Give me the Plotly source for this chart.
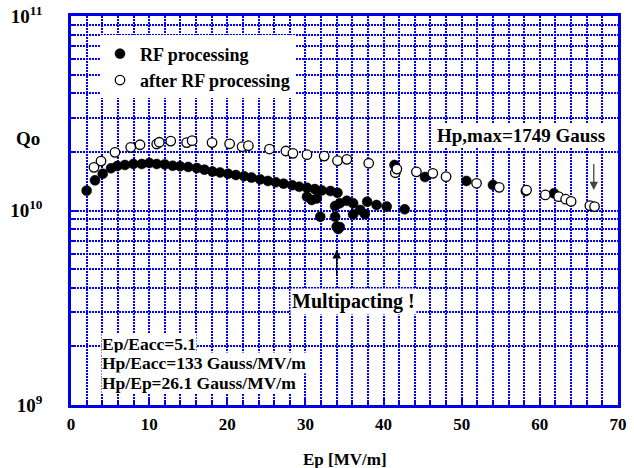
import numpy as np
import plotly.graph_objects as go

# RF processing (filled)
ep_rf = [2.0, 3.07, 4.06, 5.12, 5.93, 6.9, 7.98, 9.05, 10.03, 10.97, 12.0, 13.0, 13.96, 15.0,
         16.1, 17.07, 18.1, 19.08, 20.1, 21.1, 22.15, 23.1, 24.2, 25.2, 26.2, 27.2, 28.3, 29.2,
         30.2, 31.2, 32.1, 33.2, 34.1,
         30.2, 30.8, 31.45, 31.9, 33.8, 34.0, 34.4, 34.2, 33.8, 34.4, 35.3, 36.1, 36.1, 37.0,
         37.6, 37.9, 39.1, 40.4, 42.7, 41.4, 45.3, 50.6, 54.0, 58.2, 61.8]
q_rf = [1.265, 1.429, 1.545, 1.648, 1.694, 1.714, 1.734, 1.734, 1.754, 1.734, 1.726, 1.698, 1.687, 1.675,
        1.652, 1.622, 1.585, 1.567, 1.545, 1.521, 1.500, 1.476, 1.445, 1.419, 1.396, 1.374, 1.349, 1.324,
        1.309, 1.288, 1.268, 1.259, 1.233,
        1.178, 1.132, 1.153, 0.929, 0.929, 0.826, 0.822, 0.804, 1.054, 1.089, 1.122, 1.089, 0.955, 1.007,
        0.959, 1.109, 1.067, 1.047, 1.014, 1.714, 1.486, 1.419, 1.352, 1.259, 1.225]

# after RF processing (open)
ep_after = [2.94, 3.84, 5.63, 7.64, 8.83, 10.97, 11.3, 12.76, 14.8, 15.5, 18.05, 20.3, 21.9, 22.7,
            25.4, 27.5, 28.4, 30.2, 32.4, 34.1, 35.3, 38.1, 41.5, 41.7, 44.2, 46.3, 48.0, 51.9,
            54.8, 58.3, 60.7, 62.4, 63.3, 64.0, 66.4, 67.0]
q_after = [1.667, 1.795, 1.991, 2.113, 2.178, 2.198, 2.244, 2.275, 2.234, 2.286, 2.234, 2.203, 2.128, 2.153,
           2.070, 2.023, 1.968, 1.936, 1.905, 1.803, 1.832, 1.750, 1.563, 1.633, 1.581, 1.552, 1.493, 1.380,
           1.315, 1.274, 1.202, 1.178, 1.143, 1.114, 1.059, 1.047]

y_major = [1e9, 1e10, 1e11]
y_major_text = ["10<sup>9</sup>", "10<sup>10</sup>", "10<sup>11</sup>"]
y_minor = [m * 10 ** e for e in (9, 10) for m in range(2, 10)]

info_lines = ["Ep/Eacc=5.1", "Hp/Eacc=133 Gauss/MV/m", "Hp/Ep=26.1 Gauss/MV/m"]

FONT = "Liberation Serif"
BLUE = "rgb(0,0,235)"
GRID = "rgb(0,0,255)"
DASH = "2px,1px"
GW = 1.7

fig = go.Figure()
fig.add_trace(go.Scatter(
    x=ep_rf, y=[v * 1e10 for v in q_rf], mode="markers", name="RF processing",
    marker=dict(symbol="circle", size=10, color="black", line=dict(color="black", width=0.5))))
fig.add_trace(go.Scatter(
    x=ep_after, y=[v * 1e10 for v in q_after], mode="markers", name="after RF processing",
    marker=dict(symbol="circle", size=9.5, color="white", line=dict(color="black", width=1.3))))

axis_common = dict(
    showline=True, linecolor=BLUE, linewidth=2.5, mirror=True,
    showgrid=True, gridcolor=GRID, griddash=DASH, gridwidth=GW,
    ticks="inside", ticklen=6, tickcolor=BLUE, tickwidth=1.5,
    zeroline=False, automargin=False,
    tickfont=dict(family=FONT, size=17, color="black", weight="bold"),
)

fig.update_xaxes(
    **axis_common,
    range=[0, 70], tickmode="linear", tick0=0, dtick=10,
    minor=dict(tick0=0, dtick=2, ticks="inside", ticklen=4, tickcolor=BLUE,
               showgrid=True, gridcolor=GRID, griddash=DASH, gridwidth=GW),
    ticklabelstandoff=2,
)
fig.update_yaxes(
    **axis_common,
    type="log", range=[9, 11],
    tickmode="array", tickvals=y_major, ticktext=y_major_text,
    minor=dict(tickmode="array", tickvals=y_minor, ticks="inside", ticklen=4, tickcolor=BLUE,
               showgrid=True, gridcolor=GRID, griddash=DASH, gridwidth=GW),
    ticklabelstandoff=22,
)
fig.update_yaxes(tickfont=dict(size=19))

ann_font = dict(family=FONT, color="black", weight="bold")
fig.add_annotation(xref="paper", yref="paper", x=0.5, y=-0.14, xanchor="center", yanchor="middle",
                   text="Ep [MV/m]", showarrow=False, font=dict(size=17, **ann_font))
fig.add_annotation(xref="paper", yref="paper", x=-0.079, y=0.684, xanchor="center", yanchor="middle",
                   text="Qo", showarrow=False, font=dict(size=19, **ann_font))
fig.add_annotation(x=57.6, y=10.388, xanchor="center", yanchor="middle", text="Hp,max=1749 Gauss",
                   showarrow=False, bgcolor="white", font=dict(size=19, **ann_font))
fig.add_annotation(x=66.9, y=10.105, ax=0, ay=-36, text=" ", showarrow=True,
                   arrowhead=2, arrowsize=1.3, arrowwidth=1.3, arrowcolor="#444")
fig.add_annotation(x=36.2, y=9.53, xanchor="center", yanchor="middle", text="Multipacting !",
                   showarrow=False, bgcolor="white", font=dict(size=20, **ann_font))
fig.add_annotation(x=34.0, y=9.797, ax=0, ay=36, text=" ", showarrow=True,
                   arrowhead=2, arrowsize=1.3, arrowwidth=1.3, arrowcolor="black")
for i, line in enumerate(info_lines):
    fig.add_annotation(x=3.9, y=9.315 - i * 0.1, xanchor="left", yanchor="middle", align="left",
                       showarrow=False, text=line, bgcolor="white", borderpad=0,
                       font=dict(size=17.5, **ann_font))

fig.update_layout(
    width=634, height=468,
    margin=dict(l=71, r=16, t=16, b=63),
    plot_bgcolor="white", paper_bgcolor="white",
    showlegend=True,
    legend=dict(x=0.053, y=0.95, xanchor="left", yanchor="top", bgcolor="white",
                font=dict(family=FONT, size=18, color="black", weight="bold"),
                itemwidth=30, tracegroupgap=0),
)

fig.write_html("out.html")
